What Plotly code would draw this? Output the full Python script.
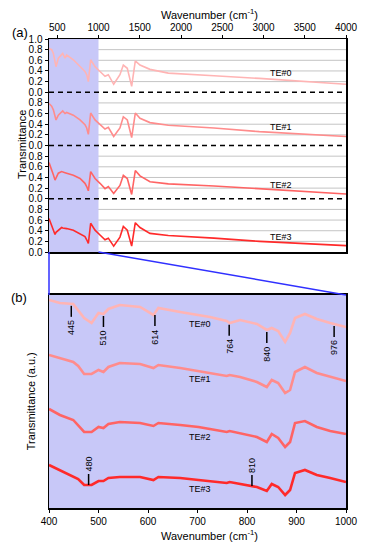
import numpy as np
import plotly.graph_objects as go

# ---------------- data: panel (a) ----------------
wn_full = [400, 432, 453, 473, 485, 513, 553, 566, 594, 614, 695, 776, 836, 857, 877, 905,
           958, 1018, 1079, 1119, 1184, 1260, 1301, 1349, 1402, 1446, 1503, 1624, 1846, 2400, 2950, 4000]
te0_full = [0.82, 0.80, 0.73, 0.60, 0.48, 0.64, 0.72, 0.73, 0.64, 0.70, 0.61, 0.48, 0.39, 0.33, 0.20, 0.61,
            0.48, 0.39, 0.30, 0.33, 0.15, 0.33, 0.51, 0.45, 0.11, 0.59, 0.51, 0.43, 0.36, 0.31, 0.26, 0.15]
te1_full = [0.79, 0.74, 0.67, 0.55, 0.48, 0.57, 0.64, 0.65, 0.60, 0.62, 0.57, 0.48, 0.39, 0.33, 0.21, 0.61,
            0.48, 0.39, 0.31, 0.34, 0.17, 0.33, 0.54, 0.48, 0.15, 0.61, 0.51, 0.43, 0.38, 0.33, 0.26, 0.17]
te2_full = [0.68, 0.56, 0.45, 0.35, 0.40, 0.48, 0.51, 0.50, 0.49, 0.48, 0.44, 0.38, 0.29, 0.23, 0.15, 0.51,
            0.38, 0.29, 0.19, 0.23, 0.10, 0.25, 0.44, 0.38, 0.08, 0.53, 0.43, 0.32, 0.28, 0.24, 0.19, 0.09]
te3_full = [0.63, 0.51, 0.40, 0.33, 0.37, 0.41, 0.46, 0.45, 0.45, 0.44, 0.41, 0.34, 0.29, 0.23, 0.16, 0.54,
            0.41, 0.32, 0.23, 0.26, 0.11, 0.28, 0.48, 0.41, 0.11, 0.55, 0.46, 0.35, 0.31, 0.26, 0.20, 0.12]

# ---------------- data: panel (b) ----------------
wn_zoom = [400, 422, 449, 459, 471, 486, 500, 510, 520, 543, 584, 611, 621, 665, 702, 725, 759, 765,
           786, 820, 840, 850, 863, 877, 887, 897, 917, 941, 968, 1000]
te0_zoom = [208, 205, 204, 198, 190, 185, 195, 194, 199, 203, 201, 193, 200, 196, 193, 191, 187, 185,
            188, 184, 178, 180, 177, 166, 175, 190, 194, 189, 185, 181]
te1_zoom = [153, 150, 146, 142, 134, 134, 138, 136, 141, 145, 144, 140, 143, 140, 137, 135, 132, 133,
            131, 126, 121, 128, 125, 115, 118, 136, 141, 135, 131, 127]
te2_zoom = [99, 93, 88, 83, 76, 76, 81, 80, 84, 86, 85, 82, 85, 83, 81, 79, 76, 77,
            75, 71, 66, 74, 70, 61, 66, 85, 87, 81, 77, 74]
te3_zoom = [43, 38, 32, 29, 23, 23, 27, 27, 30, 31, 31, 28, 31, 30, 28, 27, 25, 26,
            24, 21, 17, 24, 21, 13, 18, 35, 38, 33, 30, 26]

series_names = ["TE#0", "TE#1", "TE#2", "TE#3"]
peaks_te0 = [445, 510, 614, 764, 840, 976]
peaks_te3 = [480, 810]
y_tick_labels = ["0.0", "0.2", "0.4", "0.6", "0.8"]

colors = ["#ffb4b4", "#ff8c8c", "#ff6464", "#ff2a2a"]
shade = "#c8c8f8"
FONT = "Liberation Sans, Arial, sans-serif"

full_series = [te0_full, te1_full, te2_full, te3_full]
zoom_series = [te0_zoom, te1_zoom, te2_zoom, te3_zoom]
offsets = [3, 2, 1, 0]

top_dom = [0.5458, 1.0]
bot_dom = [0.0, 0.4542]
xr_top = [400, 4000]
xr_bot = [400, 1000]
yr_bot = [0, 213]

fig = go.Figure()

for name, vals, off, c in zip(series_names, full_series, offsets, colors):
    fig.add_trace(go.Scatter(x=wn_full, y=np.array(vals) + off, mode="lines",
                             line=dict(color=c, width=1.6), xaxis="x", yaxis="y",
                             showlegend=False, hoverinfo="skip"))
for name, vals, c in zip(series_names, zoom_series, colors):
    fig.add_trace(go.Scatter(x=wn_zoom, y=vals, mode="lines",
                             line=dict(color=c, width=2.6), xaxis="x2", yaxis="y2",
                             showlegend=False, hoverinfo="skip"))

# y tick labels for stacked panel
tickvals = [round(i * 0.2, 1) for i in range(21)]
ticktext = []
for v in tickvals:
    if v == 4.0:
        ticktext.append("1.0")
    else:
        ticktext.append(y_tick_labels[int(round((v % 1) * 5)) % 5])

shapes = []
# light gray grid lines (panel a), drawn first so the shading covers them
for v in tickvals:
    if abs(v - round(v)) > 1e-6:
        shapes.append(dict(type="line", xref="x domain", yref="y", x0=0, x1=1, y0=v, y1=v,
                           line=dict(color="#c4c4c4", width=1), layer="below"))
# shaded 400-1000 region (panel a)
shapes.append(dict(type="rect", xref="x", yref="y domain", x0=400, x1=1000, y0=0, y1=1,
                   fillcolor=shade, line=dict(width=0), layer="below"))
# panel b background
shapes.append(dict(type="rect", xref="x2 domain", yref="y2 domain", x0=0, x1=1, y0=0, y1=1,
                   fillcolor=shade, line=dict(width=0), layer="below"))
# dashed separators
for off in [1, 2, 3]:
    shapes.append(dict(type="line", xref="x domain", yref="y", x0=0, x1=1, y0=off, y1=off,
                       line=dict(color="black", width=1.5, dash="5px,4px"), layer="above"))
# connecting blue lines
def px_top(w):
    return (w - xr_top[0]) / (xr_top[1] - xr_top[0])
shapes.append(dict(type="line", xref="paper", yref="paper", x0=px_top(400), x1=0,
                   y0=top_dom[0], y1=bot_dom[1], line=dict(color="#3030ff", width=1.5)))
shapes.append(dict(type="line", xref="paper", yref="paper", x0=px_top(1000), x1=1,
                   y0=top_dom[0], y1=bot_dom[1], line=dict(color="#3030ff", width=1.5)))

annotations = []
# peak markers
for p in peaks_te0:
    yc = float(np.interp(p, wn_zoom, te0_zoom))
    shapes.append(dict(type="line", xref="x2", yref="y2", x0=p, x1=p, y0=yc - 2, y1=yc - 13,
                       line=dict(color="black", width=1.5)))
    annotations.append(dict(x=p, y=yc - 24, xref="x2", yref="y2", text=str(p), showarrow=False,
                            textangle=-90, font=dict(size=9, color="black", family=FONT),
                            xanchor="center", yanchor="middle"))
for p in peaks_te3:
    yc = float(np.interp(p, wn_zoom, te3_zoom))
    shapes.append(dict(type="line", xref="x2", yref="y2", x0=p, x1=p, y0=yc, y1=yc + 11,
                       line=dict(color="black", width=1.5)))
    annotations.append(dict(x=p, y=yc + 21, xref="x2", yref="y2", text=str(p), showarrow=False,
                            textangle=-90, font=dict(size=9, color="black", family=FONT),
                            xanchor="center", yanchor="middle"))

# series labels
top_label_y = [3.37, 2.34, 1.26, 0.28]
for name, ly in zip(series_names, top_label_y):
    annotations.append(dict(x=3210, y=ly, xref="x", yref="y", text=name, showarrow=False,
                            xanchor="center", yanchor="middle",
                            font=dict(size=9, color="black", family=FONT)))
bot_label_y = [184, 129, 71, 19]
for name, ly in zip(series_names, bot_label_y):
    annotations.append(dict(x=705, y=ly, xref="x2", yref="y2", text=name, showarrow=False,
                            xanchor="center", yanchor="middle",
                            font=dict(size=9, color="black", family=FONT)))

# panel letters and titles
def paper_note(x, y, text, size, angle=0):
    return dict(x=x, y=y, xref="paper", yref="paper", text=text, showarrow=False,
                xanchor="center", yanchor="middle", textangle=angle,
                font=dict(size=size, color="black", family=FONT))

annotations += [
    paper_note(-0.098, 1.0128, "(a)", 13),
    paper_note(-0.101, 0.448, "(b)", 13),
    paper_note(0.539, 1.053, "Wavenumber (cm<sup>-1</sup>)", 11),
    paper_note(0.539, -0.058, "Wavenumber (cm<sup>-1</sup>)", 11),
    paper_note(-0.0909, 0.774, "Transmittance", 11, -90),
    paper_note(-0.060, 0.228, "Transmittance (a.u.)", 11, -90),
]

axis_common = dict(showline=True, linecolor="black", linewidth=1.5, mirror=True,
                   tickfont=dict(size=10, color="black", family=FONT), zeroline=False,
                   automargin=False)

fig.update_layout(
    width=368, height=550,
    margin=dict(l=49, r=22, t=39, b=42),
    paper_bgcolor="white", plot_bgcolor="white",
    showlegend=False,
    font=dict(family=FONT, color="black"),
    xaxis=dict(domain=[0, 1], anchor="y", side="top", range=xr_top,
               tickvals=[500, 1000, 1500, 2000, 2500, 3000, 3500, 4000],
               ticks="outside", ticklen=3, tickcolor="black", showgrid=False, **axis_common),
    yaxis=dict(domain=top_dom, anchor="x", range=[0, 4], tickvals=tickvals, ticktext=ticktext,
               ticks="outside", ticklen=3, tickcolor="black", showgrid=False, **axis_common),
    xaxis2=dict(domain=[0, 1], anchor="y2", range=xr_bot, dtick=100, tick0=400,
                ticks="outside", ticklen=3, tickcolor="black", showgrid=False, **axis_common),
    yaxis2=dict(domain=bot_dom, anchor="x2", range=yr_bot, showticklabels=False, ticks="",
                showgrid=False, **axis_common),
    shapes=shapes,
    annotations=annotations,
)

fig.write_html("out.html",
               config={"displayModeBar": False, "staticPlot": True},
               post_script="document.body.style.margin='0';document.body.style.padding='0';")
